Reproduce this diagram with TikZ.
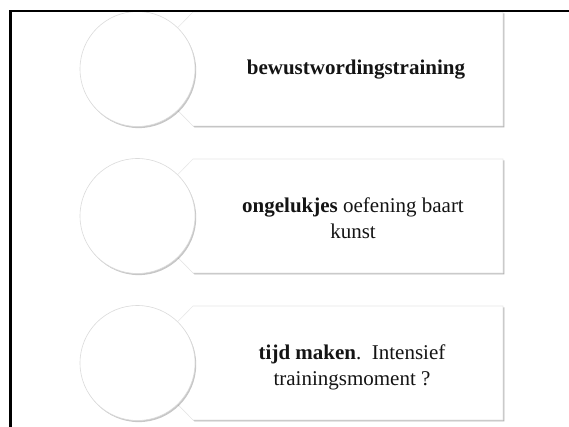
\documentclass[tikz,border=0pt]{standalone}
\usepackage{fontspec}
\setmainfont{Liberation Serif}
\usetikzlibrary{shadows}
\tikzset{
  boxshape/.style={fill=white, draw=black!9, line width=0.6pt,
    drop shadow={shadow xshift=1.4pt, shadow yshift=-1.4pt, fill=black, opacity=0.3}},
  circ/.style={circle, minimum size=115pt, inner sep=0pt, fill=white, draw=black!14, line width=0.6pt,
    drop shadow={shadow xshift=1.2pt, shadow yshift=-1.6pt, fill=black, opacity=0.22}},
  txt/.style={align=center, inner sep=0pt, text=black!92, font=\fontsize{21}{26}\selectfont},
  frameline/.style={line width=2.5pt, draw=black}
}
\begin{document}
\begin{tikzpicture}[x=1pt,y=-1pt]
\useasboundingbox (0,0) rectangle (569,427);
\fill[white] (0,0) rectangle (569,427);
\foreach \cy in {69,216,363}{
  \path[boxshape] (193,\cy-57) -- (503,\cy-57) -- (503,\cy+57) -- (193,\cy+57) -- (137,\cy) -- cycle;
}
\node[circ] (c1) at (137.5,69) {};
\node[circ] (c2) at (137.5,216) {};
\node[circ] (c3) at (137.5,363) {};
\node[txt] (t1) at (356,70) {\textbf{bewustwordingstraining}};
\node[txt] (t2) at (353,218) {\textbf{ongelukjes} oefening baart\\kunst};
\node[txt] (t3) at (352,367) {\textbf{tijd maken}.\ \ Intensief\\trainingsmoment ?};
\draw[frameline] (10.5,428) -- (10.5,11) -- (570,11);
\end{tikzpicture}
\end{document}
